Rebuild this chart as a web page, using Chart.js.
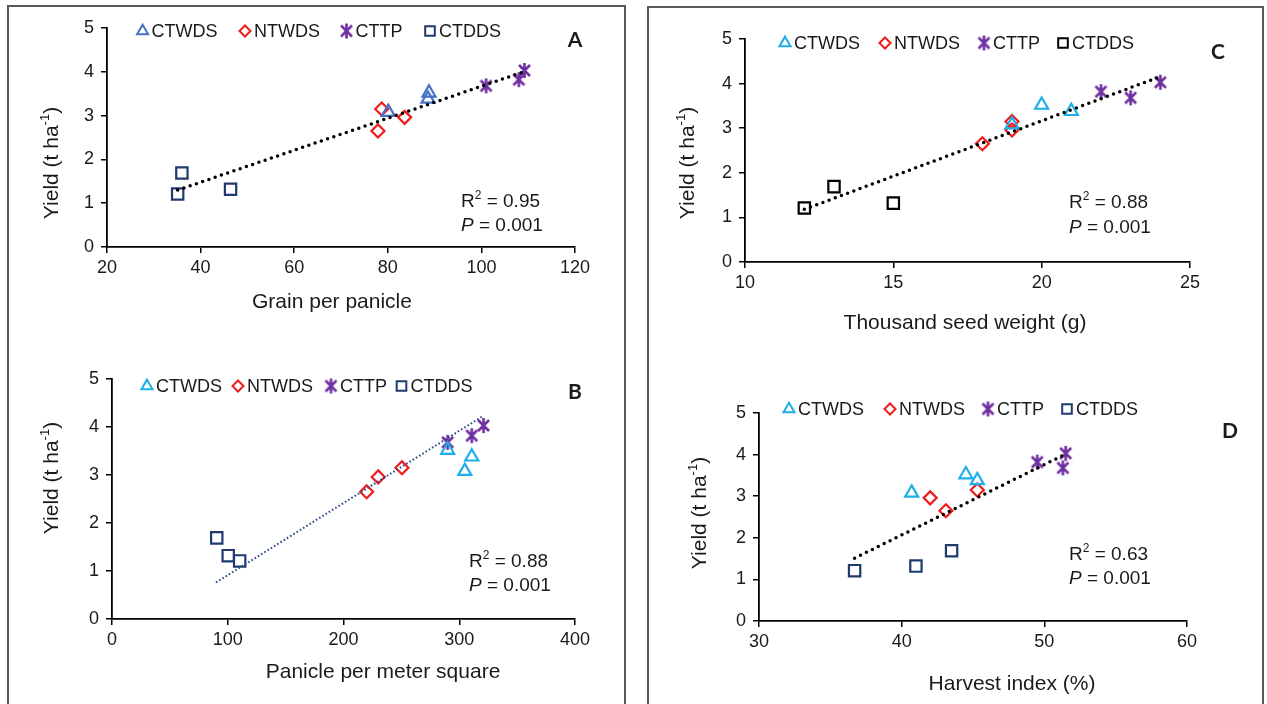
<!DOCTYPE html>
<html>
<head>
<meta charset="utf-8">
<script src="https://cdn.jsdelivr.net/npm/chart.js@4.4.1/dist/chart.umd.min.js"></script>
<style>
  body { margin: 0; background: #fff; width: 1267px; height: 704px; overflow: hidden; position: relative; }
  .box { position: absolute; border: 2px solid #5a5a5a; box-sizing: border-box; }
  canvas { position: absolute; }
</style>
</head>
<body>
<div class="box" style="left:7px;top:5px;width:619px;height:720px"></div>
<div class="box" style="left:647px;top:6px;width:617px;height:720px"></div>
<canvas id="chartA"></canvas>
<canvas id="chartB"></canvas>
<canvas id="chartC"></canvas>
<canvas id="chartD"></canvas>
<script>
// treatments, same order everywhere
const treatments = ['CTWDS', 'NTWDS', 'CTTP', 'CTDDS'];

// yield (t/ha), three points per treatment
const yieldCTWDS = [3.08, 3.52, 3.38];
const yieldNTWDS = [2.65, 3.15, 2.96];
const yieldCTTP = [3.68, 3.82, 4.03];
const yieldCTDDS = [1.21, 1.69, 1.32];
const yields = [yieldCTWDS, yieldNTWDS, yieldCTTP, yieldCTDDS];

// x values per panel, rows follow treatments
const grainPerPanicle = [[80.1, 88.8, 88.6], [77.9, 78.7, 83.6], [101, 108, 109.2], [35.1, 36, 46.4]];
const paniclePerM2 = [[304.8, 290, 310.8], [220, 250.5, 230], [290, 310.8, 321], [110.3, 90.5, 100.4]];
const seedWeight = [[19, 20, 21], [18, 19, 19], [23, 22, 24], [12, 13, 15]];
const harvestIndex = [[40.7, 44.5, 45.3], [43.1, 45.3, 42], [51.3, 49.5, 51.5], [36.7, 43.5, 41]];

// trend line ends
const trendGrain = [[35.1, 1.30], [109.3, 4.01]];
const trendPanicle = [[89.8, 0.76], [320, 4.22]];
const trendSeed = [[12, 1.18], [23.93, 4.14]];
const trendHarvest = [[36.7, 1.51], [51.3, 3.98]];

// tick labels
const yieldTicks = [0, 1, 2, 3, 4, 5];
const grainTicks = [20, 40, 60, 80, 100, 120];
const panicleTicks = [0, 100, 200, 300, 400];
const seedTicks = [10, 15, 20, 25];
const harvestTicks = [30, 40, 50, 60];

const r2Values = ['0.95', '0.88', '0.88', '0.63'];
const pValues = ['0.001', '0.001', '0.001', '0.001'];

const FONT = '"Liberation Sans", Arial, sans-serif';
const TXT = '#1a1a1a';

function makeStar(color) {
  const c = document.createElement('canvas');
  c.width = 17; c.height = 17;
  const g = c.getContext('2d');
  g.strokeStyle = color;
  g.lineWidth = 2.6;
  g.beginPath();
  g.moveTo(3, 3); g.lineTo(14, 14);
  g.moveTo(14, 3); g.lineTo(3, 14);
  g.moveTo(8.5, 1); g.lineTo(8.5, 16);
  g.stroke();
  return c;
}

const markerStyles = ['triangle', 'rectRot', 'star', 'rect'];
const markerRadius = [7.5, 6.5, 0, 8];

const panels = [
  { id: 'chartA', canvas: [10, 8, 612, 340], area: [107, 28, 575, 247],
    xs: grainPerPanicle, xTicks: grainTicks, trend: trendGrain,
    colors: ['#4472c4', '#f01c1c', '#7030a0', '#1f3a6e'],
    trendColor: '#000', trendWidth: 3.5, trendDash: [0, 6.6], trendCap: 'round',
    letter: 'A', letterPos: [575, 40], statPos: [461, 202, 226],
    xTitle: 'Grain per panicle', xTitlePos: [332, 302], yTitlePos: [52, 163],
    legendX: [142.6, 245, 346.5, 430], legendY: 31 },
  { id: 'chartB', canvas: [10, 350, 612, 350], area: [112, 379, 575, 619],
    xs: paniclePerM2, xTicks: panicleTicks, trend: trendPanicle,
    colors: ['#1eaee8', '#f01c1c', '#7030a0', '#1f3a6e'],
    trendColor: '#2a4a8a', trendWidth: 2, trendDash: [1.6, 2.2], trendCap: 'butt',
    letter: 'B', letterPos: [575, 392], statPos: [469, 562, 586],
    xTitle: 'Panicle per meter square', xTitlePos: [383, 672], yTitlePos: [52, 478],
    legendX: [147, 238, 331, 401.5], legendY: 386 },
  { id: 'chartC', canvas: [650, 9, 610, 341], area: [745, 39, 1190, 262],
    xs: seedWeight, xTicks: seedTicks, trend: trendSeed,
    colors: ['#1eaee8', '#f01c1c', '#7030a0', '#000000'],
    trendColor: '#000', trendWidth: 3.5, trendDash: [0, 6.6], trendCap: 'round',
    letter: 'C', letterPos: [1218, 52], statPos: [1069, 203, 228],
    xTitle: 'Thousand seed weight (g)', xTitlePos: [965, 323], yTitlePos: [688, 163],
    legendX: [785, 885, 984, 1063], legendY: 43 },
  { id: 'chartD', canvas: [650, 352, 610, 350], area: [759, 413, 1187, 621],
    xs: harvestIndex, xTicks: harvestTicks, trend: trendHarvest,
    colors: ['#1eaee8', '#f01c1c', '#7030a0', '#1f3a6e'],
    trendColor: '#000', trendWidth: 3.5, trendDash: [0, 6.6], trendCap: 'round',
    letter: 'D', letterPos: [1230, 431], statPos: [1069, 555, 579],
    xTitle: 'Harvest index (%)', xTitlePos: [1012, 684], yTitlePos: [700, 513],
    legendX: [789, 890, 988, 1067], legendY: 409 }
];

// texts, superscripts and the marker legend
const panelText = {
  id: 'panelText',
  afterDraw(chart, args, o) {
    const p = o.panel;
    const ctx = chart.ctx;
    const ox = p.canvas[0], oy = p.canvas[1];
    ctx.save();
    ctx.fillStyle = TXT;
    ctx.textBaseline = 'middle';

    // legend
    ctx.font = '18px ' + FONT;
    ctx.textAlign = 'left';
    treatments.forEach((name, i) => {
      const mx = p.legendX[i] - ox, my = p.legendY - oy;
      const ds = chart.data.datasets[i];
      ctx.save();
      ctx.strokeStyle = ds.borderColor;
      ctx.fillStyle = 'rgba(0,0,0,0)';
      ctx.lineWidth = 2;
      Chart.helpers.drawPoint(ctx, { pointStyle: ds.pointStyle, radius: ds.pointRadius * 0.85, rotation: 0, borderWidth: 2 }, mx, my);
      ctx.restore();
      ctx.fillStyle = TXT;
      ctx.fillText(name, mx + 9, my + 1);
    });

    // panel letter
    ctx.font = 'bold 21px Lato, "Open Sans", sans-serif';
    ctx.textAlign = 'center';
    ctx.fillText(p.letter, p.letterPos[0] - ox, p.letterPos[1] - oy);

    // R2 and P
    let x = p.statPos[0] - ox;
    ctx.textAlign = 'left';
    ctx.font = '19px ' + FONT;
    ctx.fillText('R', x, p.statPos[1] - oy);
    let w = ctx.measureText('R').width;
    ctx.font = '12px ' + FONT;
    ctx.fillText('2', x + w, p.statPos[1] - oy - 6);
    w += ctx.measureText('2').width;
    ctx.font = '19px ' + FONT;
    ctx.fillText(' = ' + o.r2, x + w, p.statPos[1] - oy);
    ctx.font = 'italic 19px ' + FONT;
    ctx.fillText('P', x, p.statPos[2] - oy);
    w = ctx.measureText('P').width;
    ctx.font = '19px ' + FONT;
    ctx.fillText(' = ' + o.pv, x + w, p.statPos[2] - oy);

    // x title
    ctx.textAlign = 'center';
    ctx.font = '21px ' + FONT;
    ctx.fillText(p.xTitle, p.xTitlePos[0] - ox, p.xTitlePos[1] - oy);

    // y title with superscript
    ctx.translate(p.yTitlePos[0] - ox, p.yTitlePos[1] - oy);
    ctx.rotate(-Math.PI / 2);
    ctx.textAlign = 'left';
    ctx.font = '21px ' + FONT;
    const a = 'Yield (t ha', b = '-1', c = ')';
    const wa = ctx.measureText(a).width, wc = ctx.measureText(c).width;
    ctx.font = '13px ' + FONT;
    const wb = ctx.measureText(b).width;
    const start = -(wa + wb + wc) / 2;
    ctx.font = '21px ' + FONT;
    ctx.fillText(a, start, 0);
    ctx.fillText(c, start + wa + wb, 0);
    ctx.font = '13px ' + FONT;
    ctx.fillText(b, start + wa, -7);
    ctx.restore();
  }
};

panels.forEach((p, k) => {
  const cv = document.getElementById(p.id);
  cv.width = p.canvas[2];
  cv.height = p.canvas[3];
  cv.style.left = p.canvas[0] + 'px';
  cv.style.top = p.canvas[1] + 'px';

  const yW = 50, xH = 40;
  const pad = {
    left: p.area[0] - p.canvas[0] - yW,
    top: p.area[1] - p.canvas[1],
    right: p.canvas[0] + p.canvas[2] - p.area[2],
    bottom: p.canvas[1] + p.canvas[3] - p.area[3] - xH
  };

  const datasets = treatments.map((name, i) => ({
    label: name,
    data: p.xs[i].map((x, j) => ({ x: x, y: yields[i][j] })),
    pointStyle: markerStyles[i] === 'star' ? makeStar(p.colors[i]) : markerStyles[i],
    pointRadius: markerStyles[i] === 'star' ? 8 : markerRadius[i],
    pointBorderWidth: 2.2,
    borderColor: p.colors[i],
    backgroundColor: 'rgba(0,0,0,0)',
    pointBackgroundColor: 'rgba(0,0,0,0)',
    pointBorderColor: p.colors[i]
  }));
  datasets.push({
    type: 'line',
    label: 'trend',
    data: p.trend.map(t => ({ x: t[0], y: t[1] })),
    borderColor: p.trendColor,
    borderWidth: p.trendWidth,
    borderDash: p.trendDash,
    borderCapStyle: p.trendCap,
    pointRadius: 0,
    fill: false,
    order: -1
  });

  const tickFont = { family: FONT, size: 18 };
  new Chart(cv, {
    type: 'scatter',
    data: { datasets },
    options: {
      responsive: false,
      animation: false,
      devicePixelRatio: 1,
      layout: { padding: pad },
      plugins: {
        legend: { display: false },
        tooltip: { enabled: false },
        panelText: { panel: p, r2: r2Values[k], pv: pValues[k] }
      },
      scales: {
        x: {
          type: 'linear',
          min: p.xTicks[0],
          max: p.xTicks[p.xTicks.length - 1],
          ticks: { stepSize: p.xTicks[1] - p.xTicks[0], font: tickFont, color: TXT, padding: 4 },
          grid: { drawOnChartArea: false, drawTicks: true, tickLength: 6, color: '#000', lineWidth: 1.5 },
          border: { color: '#000', width: 1.8 },
          afterFit: s => { s.height = xH; }
        },
        y: {
          min: yieldTicks[0],
          max: yieldTicks[yieldTicks.length - 1],
          ticks: { stepSize: 1, font: tickFont, color: TXT, padding: 7 },
          grid: { drawOnChartArea: false, drawTicks: true, tickLength: 6, color: '#000', lineWidth: 1.5 },
          border: { color: '#000', width: 1.8 },
          afterFit: s => { s.width = yW; }
        }
      }
    },
    plugins: [panelText]
  });
});
</script>
</body>
</html>
